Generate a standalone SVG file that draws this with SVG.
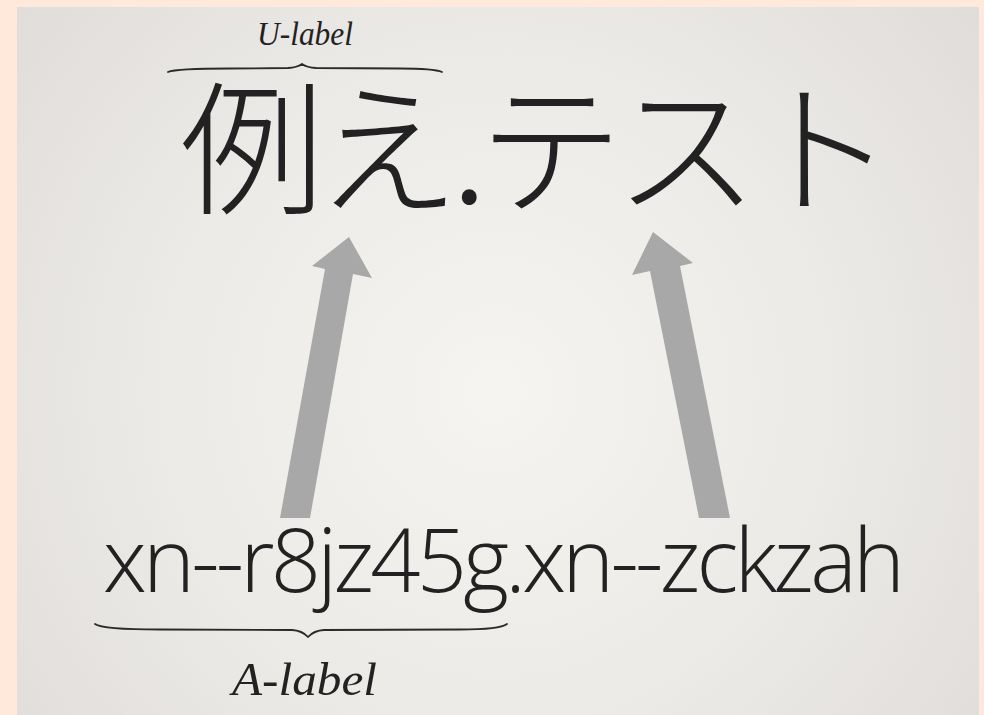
<svg xmlns="http://www.w3.org/2000/svg" width="984" height="715" viewBox="0 0 984 715">
  <defs>
    <radialGradient id="bg" cx="495" cy="390" r="620" gradientUnits="userSpaceOnUse">
      <stop offset="0" stop-color="#f6f4f1"/>
      <stop offset="0.55" stop-color="#eceae6"/>
      <stop offset="1" stop-color="#dfdcd9"/>
    </radialGradient>
    <style>
      .arrow { fill: #a8a8a8; }
      .brace { fill: none; stroke: #2a2a2a; stroke-width: 1.8; stroke-linecap: round; stroke-linejoin: round; }
      .cap { font-family: "Liberation Serif", "DejaVu Serif", serif; font-style: italic; fill: #222; }
      .big { fill: #222; }
    </style>
  </defs>
  <rect x="0" y="0" width="984" height="715" fill="#fee9db"/>
  <rect x="17" y="7" width="962" height="708" fill="url(#bg)"/>

  <g id="u-label">
    <text class="cap" x="257" y="45" font-size="33" textLength="96" lengthAdjust="spacingAndGlyphs">U-label</text>
    <path class="brace" d="M168,72 Q176,68.5 230,68.5 L288,68 Q297,67.5 302,64 Q307,67.5 316,68 L400,68.5 Q434,68.5 442,72"/>
  </g>

  <g id="unicode-name">
    <text class="big" x="180" y="203" font-size="144" font-weight="300" font-family="Noto Sans CJK JP, Noto Sans CJK SC, sans-serif" textLength="714" lengthAdjust="spacing">例え.テスト</text>
  </g>

  <g id="connectors">
    <polygon class="arrow" points="349,237 372,278 353,274 310,518 280,518 325,269 312,266"/>
    <polygon class="arrow" points="653,232 693,263 680,266 730,518 699,518 650,271 632,275"/>
  </g>

  <g id="ascii-name">
    <text class="big" x="103" y="592" font-size="88" font-weight="300" font-family="Open Sans, Noto Sans, sans-serif" textLength="802" lengthAdjust="spacing">xn--r8jz45g.xn--zckzah</text>
  </g>

  <g id="a-label">
    <path class="brace" d="M95,624 Q102,629.5 160,629.5 L292,630 Q302,630.5 308,637 Q314,630.5 324,630 L460,629.5 Q500,629.5 507,624"/>
    <text class="cap" x="232" y="695" font-size="47" textLength="145" lengthAdjust="spacingAndGlyphs">A-label</text>
  </g>
</svg>
